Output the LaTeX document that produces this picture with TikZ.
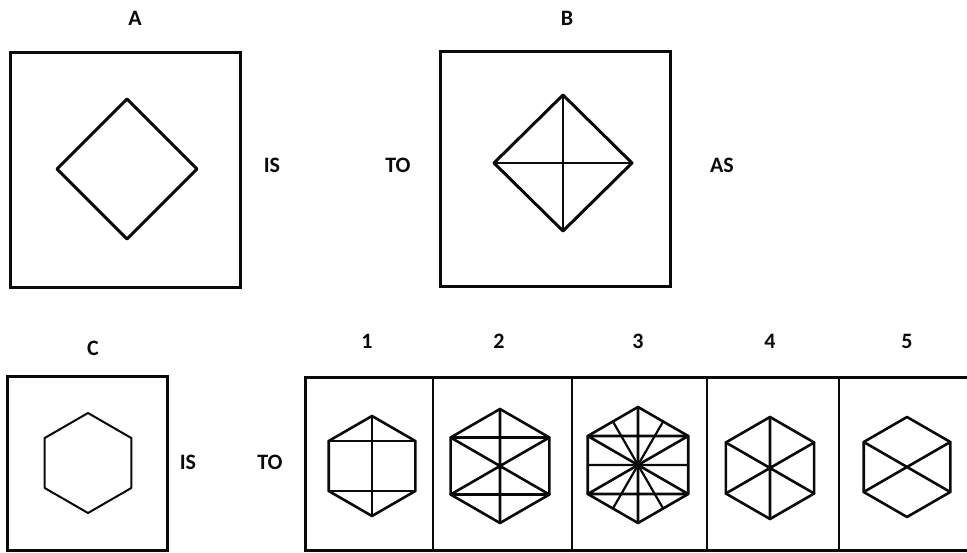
\documentclass[tikz,border=0pt]{standalone}
\usepackage{fontspec}
\setmainfont{Carlito}
\usepackage{tikz}
\usetikzlibrary{calc}
\definecolor{inkblack}{RGB}{10,10,10}
\tikzset{
  frame/.style={draw=inkblack, line width=3pt, line join=miter},
  divider/.style={draw=inkblack, line width=2pt},
  figline/.style={draw=inkblack, line width=2.6pt, line join=round, line cap=round},
  thinfig/.style={figline, line width=2pt},
  tag/.style={inner sep=0pt, font=\fontsize{22}{22}\selectfont\bfseries, text=inkblack}
}
% hexagon corners v1..v6 around (0,0), radius #1
\newcommand{\hexcorners}[1]{%
  \foreach \ang [count=\i] in {90,30,-30,-90,-150,150}
    \coordinate (v\i) at (\ang:#1);}

\begin{document}
\begin{tikzpicture}[x=1pt, y=-1pt]
  \useasboundingbox (0,0) rectangle (967,553);

  % top row
  \node[tag] (lblA) at (135,18) {A};
  \node[tag] (lblB) at (567,18) {B};
  \draw[frame] (10,53) rectangle (240,288);
  \draw[frame] (440,52) rectangle (670,287);
  \node[tag] (is1) at (272,165) {IS};
  \node[tag] (to1) at (398,165) {TO};
  \node[tag] (as1) at (722,165) {AS};

  \draw[figline, line width=3pt] (127,99) -- (197,169) -- (127,239) -- (57,169) -- cycle;
  \draw[figline, line width=3pt] (563,95) -- (632,163) -- (563,231) -- (494,163) -- cycle;
  \draw[figline, line width=2.4pt] (563,95) -- (563,231) (494,163) -- (632,163);

  % bottom row
  \node[tag] (lblC) at (93,348) {C};
  \draw[frame] (7,377) rectangle (167,550);
  \node[tag] (is2) at (188,462) {IS};
  \node[tag] (to2) at (270,462) {TO};
  \begin{scope}[shift={(88,463)}]
    \hexcorners{50}
    \draw[thinfig] (v1) -- (v2) -- (v3) -- (v4) -- (v5) -- (v6) -- cycle;
  \end{scope}

  % answer strip
  \draw[frame] (975,378) -- (305,378) -- (305,550) -- (975,550);
  \foreach \xd in {433,572,707,839}
    \draw[divider] (\xd,378) -- (\xd,550);
  \foreach \num/\xn in {1/367,2/499,3/638,4/770,5/907}
    \node[tag] (opt\num) at (\xn,341) {\num};

  % option 1
  \begin{scope}[shift={(372,466)}]
    \hexcorners{50}
    \draw[figline] (v1) -- (v2) -- (v3) -- (v4) -- (v5) -- (v6) -- cycle;
    \draw[figline] (v1) -- (v4) (v2) -- (v6) (v3) -- (v5);
  \end{scope}
  % option 2
  \begin{scope}[shift={(500,466)}]
    \hexcorners{57}
    \draw[figline] (v1) -- (v2) -- (v3) -- (v4) -- (v5) -- (v6) -- cycle;
    \draw[figline] (v1) -- (v4) (v2) -- (v6) (v3) -- (v5) (v2) -- (v5) (v3) -- (v6);
  \end{scope}
  % option 3
  \begin{scope}[shift={(638,465)}]
    \hexcorners{58}
    \draw[figline] (v1) -- (v2) -- (v3) -- (v4) -- (v5) -- (v6) -- cycle;
    \draw[figline] (v1) -- (v4) (v2) -- (v6) (v3) -- (v5) (v2) -- (v5) (v3) -- (v6);
    \draw[figline, line width=2.2pt] ($(v2)!0.5!(v3)$) -- ($(v5)!0.5!(v6)$)
      ($(v1)!0.5!(v2)$) -- ($(v4)!0.5!(v5)$) ($(v1)!0.5!(v6)$) -- ($(v3)!0.5!(v4)$);
  \end{scope}
  % option 4
  \begin{scope}[shift={(770,468)}]
    \hexcorners{51}
    \draw[figline] (v1) -- (v2) -- (v3) -- (v4) -- (v5) -- (v6) -- cycle;
    \draw[figline] (v1) -- (v4) (v2) -- (v5) (v3) -- (v6);
  \end{scope}
  % option 5
  \begin{scope}[shift={(907,467)}]
    \hexcorners{50}
    \draw[figline] (v1) -- (v2) -- (v3) -- (v4) -- (v5) -- (v6) -- cycle;
    \draw[figline] (v2) -- (v5) (v3) -- (v6);
  \end{scope}
\end{tikzpicture}
\end{document}
